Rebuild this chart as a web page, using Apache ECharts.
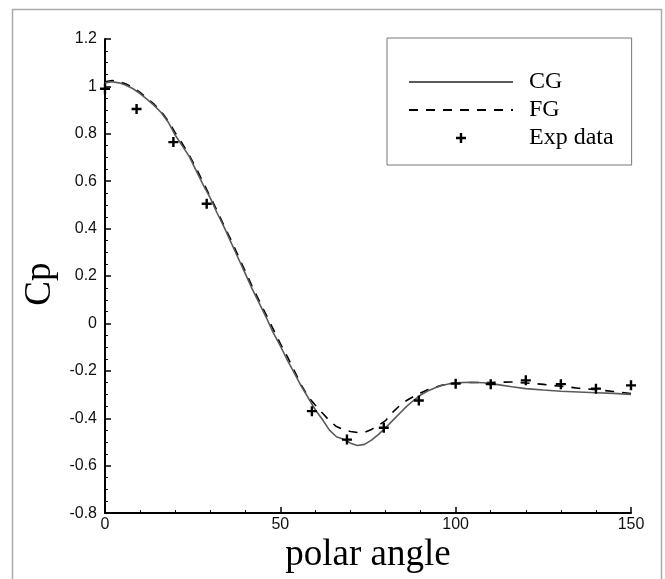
<!DOCTYPE html>
<html>
<head>
<meta charset="utf-8">
<script src="https://cdn.jsdelivr.net/npm/echarts@6/dist/echarts.min.js"></script>
<style>
html,body{margin:0;padding:0;background:#fff;}
#chart{width:665px;height:579px;}
</style>
</head>
<body>
<div id="chart"></div>
<script>
// ---- data ----
var cgX = [0,2,4,6,8,10,12,14,16,18,20,22,24,26,28,30,32,34,36,38,40,42,44,46,48,50,52,54,56,58,60,62,64,66,68,70,72,74,76,78,80,82,84,86,88,90,92,94,96,98,100,104,108,112,116,120,125,130,135,140,145,150];
var cgY = [1.015,1.02,1.015,1.005,0.99,0.97,0.945,0.92,0.89,0.85,0.795,0.75,0.705,0.645,0.585,0.53,0.465,0.405,0.34,0.275,0.21,0.145,0.085,0.025,-0.04,-0.095,-0.155,-0.21,-0.265,-0.315,-0.365,-0.405,-0.45,-0.478,-0.488,-0.505,-0.515,-0.51,-0.492,-0.468,-0.44,-0.41,-0.38,-0.35,-0.325,-0.302,-0.285,-0.272,-0.262,-0.255,-0.25,-0.248,-0.25,-0.258,-0.267,-0.275,-0.281,-0.286,-0.289,-0.292,-0.295,-0.299];

var fgX = [0,2,4,6,8,10,12,14,16,18,20,22,24,26,28,30,32,34,36,38,40,42,44,46,48,50,52,54,56,58,60,62,64,66,68,70,72,74,76,78,80,82,84,86,88,90,92,94,96,98,100,104,108,112,116,120,125,130,135,140,145,150];
var fgY = [1.02,1.025,1.02,1.01,0.995,0.975,0.95,0.925,0.895,0.855,0.805,0.76,0.71,0.655,0.595,0.535,0.475,0.41,0.35,0.285,0.22,0.155,0.095,0.035,-0.025,-0.085,-0.14,-0.2,-0.26,-0.31,-0.345,-0.378,-0.41,-0.435,-0.448,-0.456,-0.46,-0.46,-0.447,-0.43,-0.41,-0.375,-0.347,-0.325,-0.308,-0.293,-0.28,-0.27,-0.261,-0.255,-0.251,-0.249,-0.249,-0.248,-0.247,-0.251,-0.257,-0.265,-0.273,-0.279,-0.287,-0.296];

var expX = [0,9,19.5,29,59,69,79.5,89.5,100,110,120,130,140,150];
var expY = [0.99,0.905,0.765,0.505,-0.37,-0.49,-0.44,-0.325,-0.254,-0.256,-0.24,-0.256,-0.275,-0.261];

var seriesNames = ['CG','FG','Exp data'];
var xTitle = 'polar angle';
var yTitle = 'Cp';

function pairs(xs, ys){ return xs.map(function(x,i){ return [x, ys[i]]; }); }

var plusPath = 'path://M3.8,0H6.2V3.8H10V6.2H6.2V10H3.8V6.2H0V3.8H3.8Z';
var plusLegend = 'path://M0,0L0,0M14,14L14,14M5.8,2H8.2V5.8H12V8.2H8.2V12H5.8V8.2H2V5.8H5.8Z';

var chart = echarts.init(document.getElementById('chart'), null, {renderer:'canvas'});
var axisFont = {fontFamily:'Liberation Sans, Arial, sans-serif', fontSize:16, color:'#111'};
chart.setOption({
  backgroundColor:'#fff',
  animation:false,
  graphic:[{type:'rect', z:-1, shape:{x:12.5, y:9.5, width:649, height:620}, style:{fill:'none', stroke:'#aaa', lineWidth:1.5}}],
  grid:{left:105, right:34, top:39, bottom:60, containLabel:false},
  legend:{
    orient:'vertical', left:387, top:38,
    padding:[32,18,15,21],
    itemWidth:104, itemHeight:14, itemGap:4,
    borderColor:'#777', borderWidth:1, borderRadius:0,
    symbolKeepAspect:true,
    selectedMode:false,
    textStyle:{fontFamily:'Liberation Serif, Times New Roman, serif', fontSize:24, color:'#000', padding:[0,0,0,11]},
    data:[
      {name:seriesNames[0], itemStyle:{opacity:0}},
      {name:seriesNames[1], itemStyle:{opacity:0}},
      {name:seriesNames[2], icon:plusLegend, itemStyle:{color:'#000'}}
    ]
  },
  xAxis:{
    type:'value', min:0, max:150, interval:50,
    name:xTitle, nameLocation:'middle', nameGap:15,
    nameTextStyle:{fontFamily:'Liberation Serif, Times New Roman, serif', fontSize:37, color:'#000'},
    axisLine:{onZero:false, lineStyle:{color:'#000', width:2}},
    axisTick:{inside:true, length:6, lineStyle:{color:'#000', width:1.5}},
    minorTick:{show:true, splitNumber:5, length:3, lineStyle:{color:'#000', width:1}},
    axisLabel:Object.assign({margin:3, showMinLabel:true, showMaxLabel:true}, axisFont),
    splitLine:{show:false}, minorSplitLine:{show:false}
  },
  yAxis:{
    type:'value', min:-0.8, max:1.2, interval:0.2,
    name:yTitle, nameLocation:'middle', nameGap:46, nameRotate:90,
    nameTextStyle:{fontFamily:'Liberation Serif, Times New Roman, serif', fontSize:37, color:'#000', padding:[0,16,0,0]},
    axisLine:{onZero:false, lineStyle:{color:'#000', width:2}},
    axisTick:{inside:true, length:6, lineStyle:{color:'#000', width:1.5}},
    minorTick:{show:true, splitNumber:4, length:3, lineStyle:{color:'#000', width:1}},
    axisLabel:Object.assign({margin:8, showMinLabel:true, showMaxLabel:true,
      formatter:function(v){ return String(Math.round(v*10)/10); }}, axisFont),
    splitLine:{show:false}, minorSplitLine:{show:false}
  },
  series:[
    {name:seriesNames[0], type:'line', data:pairs(cgX,cgY), symbol:'none', smooth:false,
     lineStyle:{color:'#5a5a5a', width:1.6}, itemStyle:{color:'#5a5a5a'}, z:3},
    {name:seriesNames[1], type:'line', data:pairs(fgX,fgY), symbol:'none', smooth:false,
     lineStyle:{color:'#000', width:1.6, type:[9,8]}, itemStyle:{color:'#000'}, z:2},
    {name:seriesNames[2], type:'scatter', data:pairs(expX,expY), symbol:plusPath, symbolSize:10,
     itemStyle:{color:'#000', opacity:1}, z:4}
  ]
});
</script>
</body>
</html>
